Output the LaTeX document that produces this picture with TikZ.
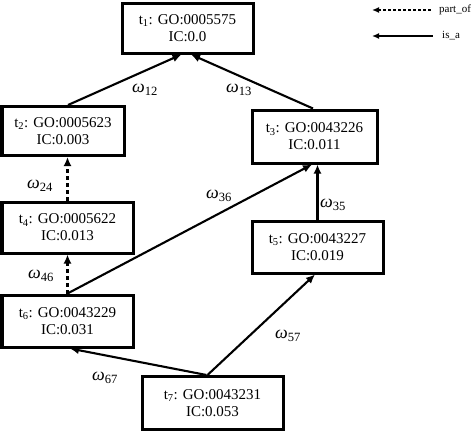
\documentclass[tikz,border=0pt]{standalone}
\usepackage{fontspec}
\setmainfont{Liberation Serif}
\usetikzlibrary{arrows.meta,calc}
\newcommand{\wlab}[1]{{\itshape ω}\textsubscript{#1}}
\begin{document}
\begin{tikzpicture}[x=1pt,y=-1pt,
  term/.style={draw, line width=3pt, align=center, inner sep=0pt,
    font=\fontsize{15}{17}\selectfont},
  isa/.style={line width=2.1pt, -{Latex[length=9pt,width=8pt]}},
  partof/.style={isa, dash pattern=on 4pt off 3pt},
  wl/.style={font=\fontsize{18}{20}\selectfont, inner sep=0pt},
  leg/.style={line width=1.5pt, {Latex[length=7pt,width=6pt]}-},
  legtext/.style={font=\fontsize{11}{13}\selectfont, anchor=west, inner sep=0pt}
]
\useasboundingbox (0,0) rectangle (472,432);

\node[term, minimum width=131pt, minimum height=50pt] (t1) at (187.5,28) {t\textsubscript{1}: GO:0005575\\IC:0.0};
\node[term, minimum width=122pt, minimum height=49pt] (t2) at (63,131) {t\textsubscript{2}: GO:0005623\\IC:0.003};
\node[term, minimum width=125pt, minimum height=53pt] (t3) at (314.5,136.5) {t\textsubscript{3}: GO:0043226\\IC:0.011};
\node[term, minimum width=131pt, minimum height=51pt] (t4) at (67.5,227.5) {t\textsubscript{4}: GO:0005622\\IC:0.013};
\node[term, minimum width=131pt, minimum height=52pt] (t5) at (317.5,247) {t\textsubscript{5}: GO:0043227\\IC:0.019};
\node[term, minimum width=131pt, minimum height=52pt] (t6) at (67.5,321) {t\textsubscript{6}: GO:0043229\\IC:0.031};
\node[term, minimum width=141pt, minimum height=53pt] (t7) at (212.5,403) {t\textsubscript{7}: GO:0043231\\IC:0.053};

\draw[isa] ([xshift=5pt]t2.north) -- ([xshift=-6pt]t1.south);
\draw[isa] ([xshift=-1.5pt]t3.north) -- ([xshift=3.5pt]t1.south);
\draw[partof] (t4.north) -- (t4.north |- t2.south);
\draw[partof] (t6.north) -- (t4.south);
\draw[isa] (t6.north) -- ([xshift=-2.5pt]t3.south);
\draw[isa] (t5.north) -- (t5.north |- t3.south);
\draw[isa] ([xshift=-6pt]t7.north) -- ([xshift=2.5pt]t6.south);
\draw[isa] ([xshift=-5pt]t7.north) -- ([xshift=-2.5pt]t5.south);

\node[wl] (w12) at (145,90) {\wlab{12}};
\node[wl] (w13) at (239,90) {\wlab{13}};
\node[wl] (w24) at (40,186) {\wlab{24}};
\node[wl] (w36) at (219,196) {\wlab{36}};
\node[wl] (w35) at (333,205) {\wlab{35}};
\node[wl] (w46) at (41,276) {\wlab{46}};
\node[wl] (w57) at (288,336) {\wlab{57}};
\node[wl] (w67) at (105,378) {\wlab{67}};

\coordinate (p1) at (372,10);
\coordinate (p2) at (433,10);
\coordinate (i1) at (372,36);
\coordinate (i2) at (433,36);
\draw[leg, dash pattern=on 3pt off 2pt] (p1) -- (p2);
\draw[leg] (i1) -- (i2);
\node[legtext] (lp) at (439,10) {part\_of};
\node[legtext] (li) at (442,36) {is\_a};
\end{tikzpicture}
\end{document}
